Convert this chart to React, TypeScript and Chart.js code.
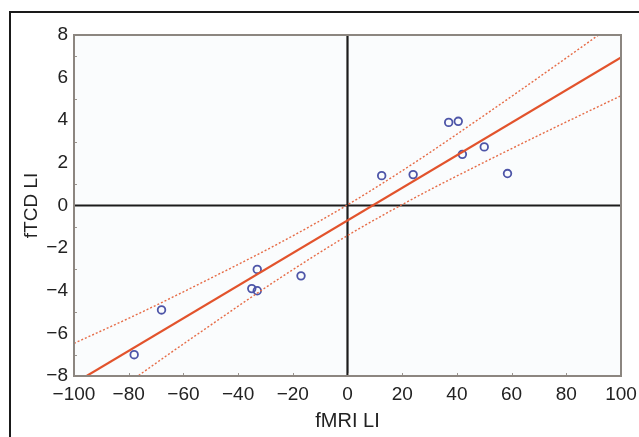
import React, { useEffect, useRef } from "react";
import { Chart, registerables } from "chart.js";

Chart.register(...registerables);

// Scatter observations (fMRI LI vs fTCD LI)
const fmriLI = [-78, -68, -33, -35, -33, -17, 12.5, 24, 37, 40.5, 42, 50, 58.5];
const ftcdLI = [-7.0, -4.9, -3.0, -3.9, -4.0, -3.3, 1.4, 1.45, 3.9, 3.95, 2.4, 2.75, 1.5];

// Regression line
const fitX = [-100, 100];
const fitY = [-8.35, 6.95];

// Confidence band
const bandX = [-100, -75, -50, -25, 0, 25, 50, 75, 100];
const bandUpper = [-6.47, -4.99, -3.41, -1.77, 0.03, 2.05, 4.23, 6.47, 8.75];
const bandLower = [-10.19, -7.85, -5.61, -3.43, -1.41, 0.39, 2.03, 3.61, 5.15];

// Axis ticks
const xTicks = [-100, -80, -60, -40, -20, 0, 20, 40, 60, 80, 100];
const yTicks = [-8, -6, -4, -2, 0, 2, 4, 6, 8];

const FONT = '"Liberation Sans", Arial, Helvetica, sans-serif';

const fmt = (v: number) => (v < 0 ? "\u2212" + Math.abs(v) : String(v));

const framePlugin = {
  id: "frame",
  beforeDatasetsDraw(chart: any) {
    const { ctx, chartArea: a, scales } = chart;
    const x = scales.x;
    const y = scales.y;
    ctx.save();
    ctx.fillStyle = "#fafcfd";
    ctx.fillRect(a.left, a.top, a.right - a.left, a.bottom - a.top);
    // zero lines
    ctx.strokeStyle = "#1c1c1c";
    ctx.lineWidth = 2.2;
    const x0 = x.getPixelForValue(0);
    const y0 = y.getPixelForValue(0);
    ctx.beginPath();
    ctx.moveTo(x0, a.top);
    ctx.lineTo(x0, a.bottom);
    ctx.moveTo(a.left, y0);
    ctx.lineTo(a.right, y0);
    ctx.stroke();
    // inward minor ticks
    ctx.strokeStyle = "#9a948e";
    ctx.lineWidth = 1;
    ctx.beginPath();
    for (let v = -7; v <= 7; v += 2) {
      const py = Math.round(y.getPixelForValue(v)) + 0.5;
      ctx.moveTo(a.left, py);
      ctx.lineTo(a.left + 3, py);
    }
    for (let i = 1; i < xTicks.length - 1; i++) {
      const px = Math.round(x.getPixelForValue(xTicks[i])) + 0.5;
      ctx.moveTo(px, a.bottom);
      ctx.lineTo(px, a.bottom - 3);
    }
    ctx.stroke();
    ctx.restore();
  },
  afterDatasetsDraw(chart: any) {
    const { ctx, chartArea: a } = chart;
    ctx.save();
    ctx.strokeStyle = "#8c8680";
    ctx.lineWidth = 2;
    ctx.strokeRect(a.left, a.top, a.right - a.left, a.bottom - a.top);
    ctx.restore();
  },
};

export default function App() {
  const ref = useRef<HTMLCanvasElement | null>(null);

  useEffect(() => {
    if (!ref.current) return;
    const chart = new Chart(ref.current, {
      type: "scatter",
      data: {
        datasets: [
          {
            label: "upper",
            data: bandX.map((v, i) => ({ x: v, y: bandUpper[i] })),
            showLine: true,
            borderColor: "#e66c47",
            borderWidth: 1.4,
            borderDash: [2, 2],
            pointRadius: 0,
            cubicInterpolationMode: "monotone",
          } as any,
          {
            label: "lower",
            data: bandX.map((v, i) => ({ x: v, y: bandLower[i] })),
            showLine: true,
            borderColor: "#e66c47",
            borderWidth: 1.4,
            borderDash: [2, 2],
            pointRadius: 0,
            cubicInterpolationMode: "monotone",
          } as any,
          {
            label: "fit",
            data: fitX.map((v, i) => ({ x: v, y: fitY[i] })),
            showLine: true,
            borderColor: "#e2532c",
            borderWidth: 2.2,
            pointRadius: 0,
          } as any,
          {
            label: "data",
            data: fmriLI.map((v, i) => ({ x: v, y: ftcdLI[i] })),
            showLine: false,
            pointRadius: 3.8,
            pointBorderWidth: 1.8,
            pointBorderColor: "#4d55a8",
            pointBackgroundColor: "rgba(0,0,0,0)",
            borderColor: "#4d55a8",
            backgroundColor: "rgba(0,0,0,0)",
          } as any,
        ],
      },
      options: {
        animation: false,
        responsive: false,
        maintainAspectRatio: false,
        layout: { padding: { left: 0, top: 35, right: 18, bottom: 0 } },
        plugins: {
          legend: { display: false },
          tooltip: { enabled: false },
        },
        scales: {
          x: {
            type: "linear",
            min: -100,
            max: 100,
            afterBuildTicks: (s: any) => {
              s.ticks = xTicks.map((v) => ({ value: v }));
            },
            afterFit: (s: any) => {
              s.height = 61;
              s.paddingLeft = 0;
              s.paddingRight = 0;
            },
            ticks: {
              callback: (v: any) => fmt(Number(v)),
              font: { family: FONT, size: 19 },
              color: "#222222",
              padding: 7,
              maxRotation: 0,
              autoSkip: false,
            },
            grid: { display: false, drawTicks: false },
            border: { display: false },
            title: {
              display: true,
              text: "fMRI LI",
              font: { family: FONT, size: 20 },
              color: "#222222",
              padding: { top: 0, bottom: 4 },
            },
          },
          y: {
            type: "linear",
            min: -8,
            max: 8,
            afterBuildTicks: (s: any) => {
              s.ticks = yTicks.map((v) => ({ value: v }));
            },
            afterFit: (s: any) => {
              s.width = 74;
              s.paddingTop = 0;
              s.paddingBottom = 0;
            },
            ticks: {
              callback: (v: any) => fmt(Number(v)),
              font: { family: FONT, size: 19 },
              color: "#222222",
              padding: 6,
              autoSkip: false,
            },
            grid: { display: false, drawTicks: false },
            border: { display: false },
            title: {
              display: true,
              text: "fTCD LI",
              font: { family: FONT, size: 19 },
              color: "#222222",
              padding: { top: 20, bottom: 0 },
            },
          },
        },
      },
      plugins: [framePlugin],
    });
    return () => chart.destroy();
  }, []);

  return (
    <div style={{ position: "absolute", left: 0, top: 0, width: 639, height: 437, background: "#ffffff", overflow: "hidden" }}>
      <div
        style={{
          position: "absolute",
          left: 9,
          top: 11,
          width: 700,
          height: 500,
          borderTop: "2.5px solid #1a1a1a",
          borderLeft: "2.5px solid #1a1a1a",
        }}
      />
      <canvas ref={ref} width={639} height={437} style={{ position: "absolute", left: 0, top: 0, width: 639, height: 437 }} />
    </div>
  );
}
